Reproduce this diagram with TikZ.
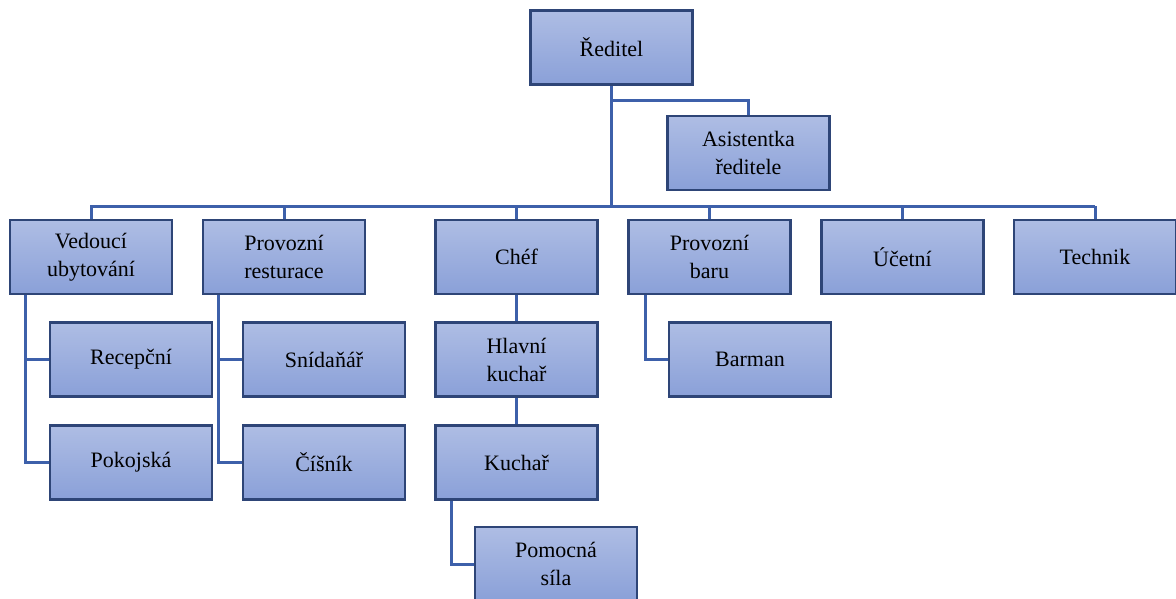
\documentclass[tikz,border=0pt]{standalone}
\usepackage{fontspec}
\setmainfont{Liberation Serif}
\definecolor{boxtop}{HTML}{AEBDE4}
\definecolor{boxbot}{HTML}{8AA0D8}
\definecolor{boxedge}{HTML}{2E4577}
\definecolor{linkc}{HTML}{3D60AA}
\tikzset{
  box/.style={draw=boxedge, line width=2.6pt, top color=boxtop, bottom color=boxbot,
    minimum width=162pt, minimum height=74pt, inner sep=0pt, align=center,
    font=\fontsize{22}{28}\selectfont},
  link/.style={draw=linkc, line width=3pt}
}
\begin{document}
\begin{tikzpicture}[x=1pt, y=-1pt]
\useasboundingbox (0,0) rectangle (1176,599);

\coordinate (busL) at (90,206);
\coordinate (busR) at (1095,206);
\coordinate (asb) at (612,101);

% boxes
\node[box] (dir) at (611.5,47.5) {Ředitel};
\node[box] (asi) at (748.5,153) {Asistentka\\ředitele};

\node[box] (ved) at (91,257) {Vedoucí\\ubytování};
\node[box] (pro) at (284,257) {Provozní\\resturace};
\node[box] (chef) at (516.5,257) {Chéf};
\node[box] (bar) at (709.5,257) {Provozní\\baru};
\node[box] (uce) at (902.5,257) {Účetní};
\node[box] (tec) at (1095,257) {Technik};

\node[box] (rec) at (131,359.5) {Recepční};
\node[box] (pok) at (131,462.5) {Pokojská};
\node[box] (sni) at (324,359.5) {Snídaňář};
\node[box] (cis) at (324,462.5) {Číšník};
\node[box] (hla) at (516.5,359.5) {Hlavní\\kuchař};
\node[box] (kuc) at (516.5,462.5) {Kuchař};
\node[box] (pom) at (556,564) {Pomocná\\síla};
\node[box] (bmn) at (750,359.5) {Barman};

% side rails of the second level
\coordinate (vedx) at ([xshift=17pt]ved.south west);
\coordinate (prox) at ([xshift=17pt]pro.south west);
\coordinate (kucx) at ([xshift=17pt]kuc.south west);
\coordinate (barx) at ([xshift=18pt]bar.south west);

% director and assistant
\draw[link] (dir.south) -- (dir.south |- busL);
\draw[link] (asb) -| (asi.north);

% main bus
\draw[link] (busL) -- (busR);
\foreach \n in {ved,pro,chef,bar,uce,tec}
  \draw[link] (\n.north) -- (\n.north |- busL);

% accommodation
\draw[link] (vedx) |- (pok.west);
\draw[link] (rec.west) -- (vedx |- rec.west);
% restaurant
\draw[link] (prox) |- (cis.west);
\draw[link] (sni.west) -- (prox |- sni.west);
% kitchen
\draw[link] (chef.south) -- (hla.north);
\draw[link] (hla.south) -- (kuc.north);
\draw[link] (kucx) |- (pom.west);
% bar
\draw[link] (barx) |- (bmn.west);
\end{tikzpicture}
\end{document}
